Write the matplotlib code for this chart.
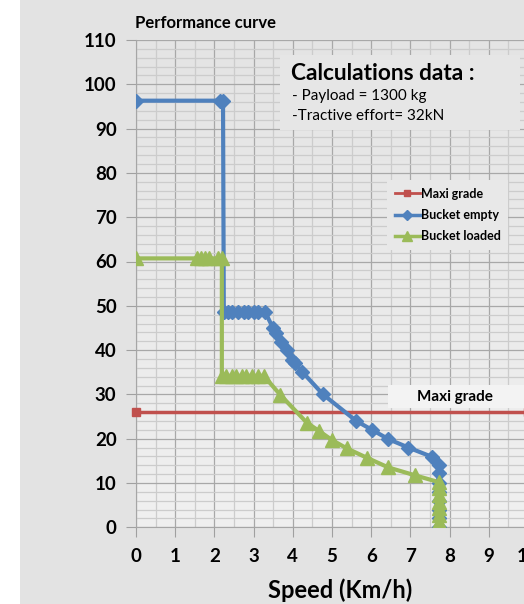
import numpy as np
import matplotlib

matplotlib.use("Agg")
import matplotlib.pyplot as plt
from matplotlib.patches import Rectangle
from matplotlib.lines import Line2D

plt.rcParams["font.family"] = ["Lato", "DejaVu Sans"]

# --- data ---
empty_speed = [0, 2.15, 2.22, 2.24, 2.35, 2.45, 2.6, 2.75, 2.85, 3.0, 3.1, 3.3,
               3.5, 3.58, 3.7, 3.85, 3.97, 4.05, 4.24, 4.77, 5.62, 6.02, 6.44,
               6.95, 7.55, 7.72, 7.72, 7.72, 7.72, 7.72, 7.72, 7.72, 7.72]
empty_grade = [96.3, 96.3, 96.3, 48.5, 48.5, 48.5, 48.5, 48.5, 48.5, 48.5, 48.5, 48.5,
               44.9, 43.8, 41.9, 40.0, 37.8, 37.0, 35.1, 30.0, 24.0, 22.0, 19.9,
               18.0, 15.9, 14.1, 12.2, 10.0, 8.0, 6.0, 4.0, 2.0, 0.0]

loaded_speed = [0, 1.55, 1.65, 1.75, 1.85, 2.1, 2.19, 2.19, 2.3, 2.45, 2.55, 2.7,
                2.8, 2.95, 3.1, 3.26, 3.68, 4.36, 4.66, 5.0, 5.38, 5.89, 6.44,
                7.13, 7.72, 7.72, 7.72, 7.72, 7.72, 7.72, 7.72, 7.72]
loaded_grade = [60.7, 60.7, 60.7, 60.7, 60.7, 60.7, 60.7, 34.2, 34.2, 34.2, 34.2, 34.2,
                34.2, 34.2, 34.2, 34.2, 29.9, 23.6, 21.8, 19.7, 17.8, 15.7, 13.5,
                11.7, 10.2, 8.8, 7.3, 5.8, 4.3, 2.8, 1.3, 0.0]

maxi_speed = [0, 10]
maxi_grade = [26, 26]

x_ticks = list(range(0, 11))
y_ticks = list(range(0, 111, 10))

blue = "#4f81bd"
green = "#9bbb59"
red = "#c0504d"

W, H = 524, 604
fig = plt.figure(figsize=(W / 100, H / 100), dpi=100, facecolor="#e3e3e3")


def fx(px):
    return px / W


def fy(py):
    return 1 - py / H


# white strip on the far left
fig.patches.append(Rectangle((0, 0), fx(20), 1, transform=fig.transFigure,
                             facecolor="white", edgecolor="none", zorder=-1))

x0, x1, ytop, ybot = 136, 528, 40, 527.3
ax = fig.add_axes([fx(x0), fy(ybot), (x1 - x0) / W, (ybot - ytop) / H])
ax.set_facecolor("none")

# soft vertical gradient inside the plot area
grad = np.linspace(0, 1, 256).reshape(-1, 1)
ax.imshow(grad, extent=[0, 10, 0, 110], aspect="auto", origin="upper",
          cmap=matplotlib.colors.LinearSegmentedColormap.from_list(
              "g", ["#e4e4e4", "#f0f0f0"]), zorder=0)

ax.set_xlim(0, 10)
ax.set_ylim(0, 110)
ax.set_xticks(x_ticks)
ax.set_yticks(y_ticks)
ax.set_xticks(np.arange(0.5, 10, 1), minor=True)
ax.set_yticks(np.arange(2, 110, 2), minor=True)
ax.grid(which="major", color="#a8a8a8", linewidth=0.9, zorder=1)
ax.grid(which="minor", color="#cccccc", linewidth=0.9, zorder=1)
ax.set_axisbelow(True)
for s in ["top", "right"]:
    ax.spines[s].set_visible(False)
for s in ["left", "bottom"]:
    ax.spines[s].set_color("#a6a6a6")
ax.tick_params(which="major", length=7, color="#a0a0a0", labelsize=13.5)
ax.tick_params(which="minor", length=0)
ax.tick_params(axis="y", pad=7)
ax.tick_params(axis="x", pad=8)
for lab in ax.get_xticklabels() + ax.get_yticklabels():
    lab.set_fontweight("bold")

# boxes behind the annotations (drawn inside the axes so they sit over the grid)
ax.add_patch(Rectangle((fx(280), fy(130)), fx(240), 75 / H, transform=fig.transFigure,
                       facecolor="#e6e6e6", edgecolor="none", zorder=2, clip_on=False))
ax.add_patch(Rectangle((fx(388), fy(408)), fx(136), 23 / H, transform=fig.transFigure,
                       facecolor="#f3f3f3", edgecolor="none", zorder=2, clip_on=False))

ax.plot(maxi_speed, maxi_grade, color=red, lw=2.5, marker="s", ms=6, zorder=3,
        clip_on=False)
ax.plot(empty_speed, empty_grade, color=blue, lw=3, marker="D", ms=7.5, zorder=4)
ax.plot(loaded_speed, loaded_grade, color=green, lw=3, marker="^", ms=10, zorder=5)

fig.text(fx(455), fy(397), "Maxi grade", ha="center", va="center",
         fontsize=11, fontweight="bold")

fig.text(fx(291), fy(73), "Calculations data :", ha="left", va="center",
         fontsize=16.3, fontweight="bold")
fig.text(fx(292), fy(96), "- Payload = 1300 kg", ha="left", va="center", fontsize=11)
fig.text(fx(292), fy(116), "-Tractive effort= 32kN", ha="left", va="center", fontsize=11)

fig.text(fx(135), fy(23), "Performance curve", ha="left", va="center",
         fontsize=12, fontweight="bold")
fig.text(fx(340), fy(590), "Speed (Km/h)", ha="center", va="center",
         fontsize=17, fontweight="bold")

handles = [
    Line2D([], [], color=red, lw=2, marker="s", ms=5),
    Line2D([], [], color=blue, lw=2.5, marker="D", ms=5.5),
    Line2D([], [], color=green, lw=2.5, marker="^", ms=7),
]
leg = fig.legend(handles, ["Maxi grade", "Bucket empty", "Bucket loaded"],
                 loc="upper left", bbox_to_anchor=(fx(381), fy(174)),
                 frameon=True, fancybox=False, handlelength=2.0, handletextpad=0.1,
                 labelspacing=0.75, borderpad=0.6, prop={"weight": "bold", "size": 9})
leg.get_frame().set_facecolor("#e8e8e8")
leg.get_frame().set_edgecolor("none")
leg.get_frame().set_alpha(1)

fig.savefig("out.png", dpi=100, facecolor=fig.get_facecolor())
